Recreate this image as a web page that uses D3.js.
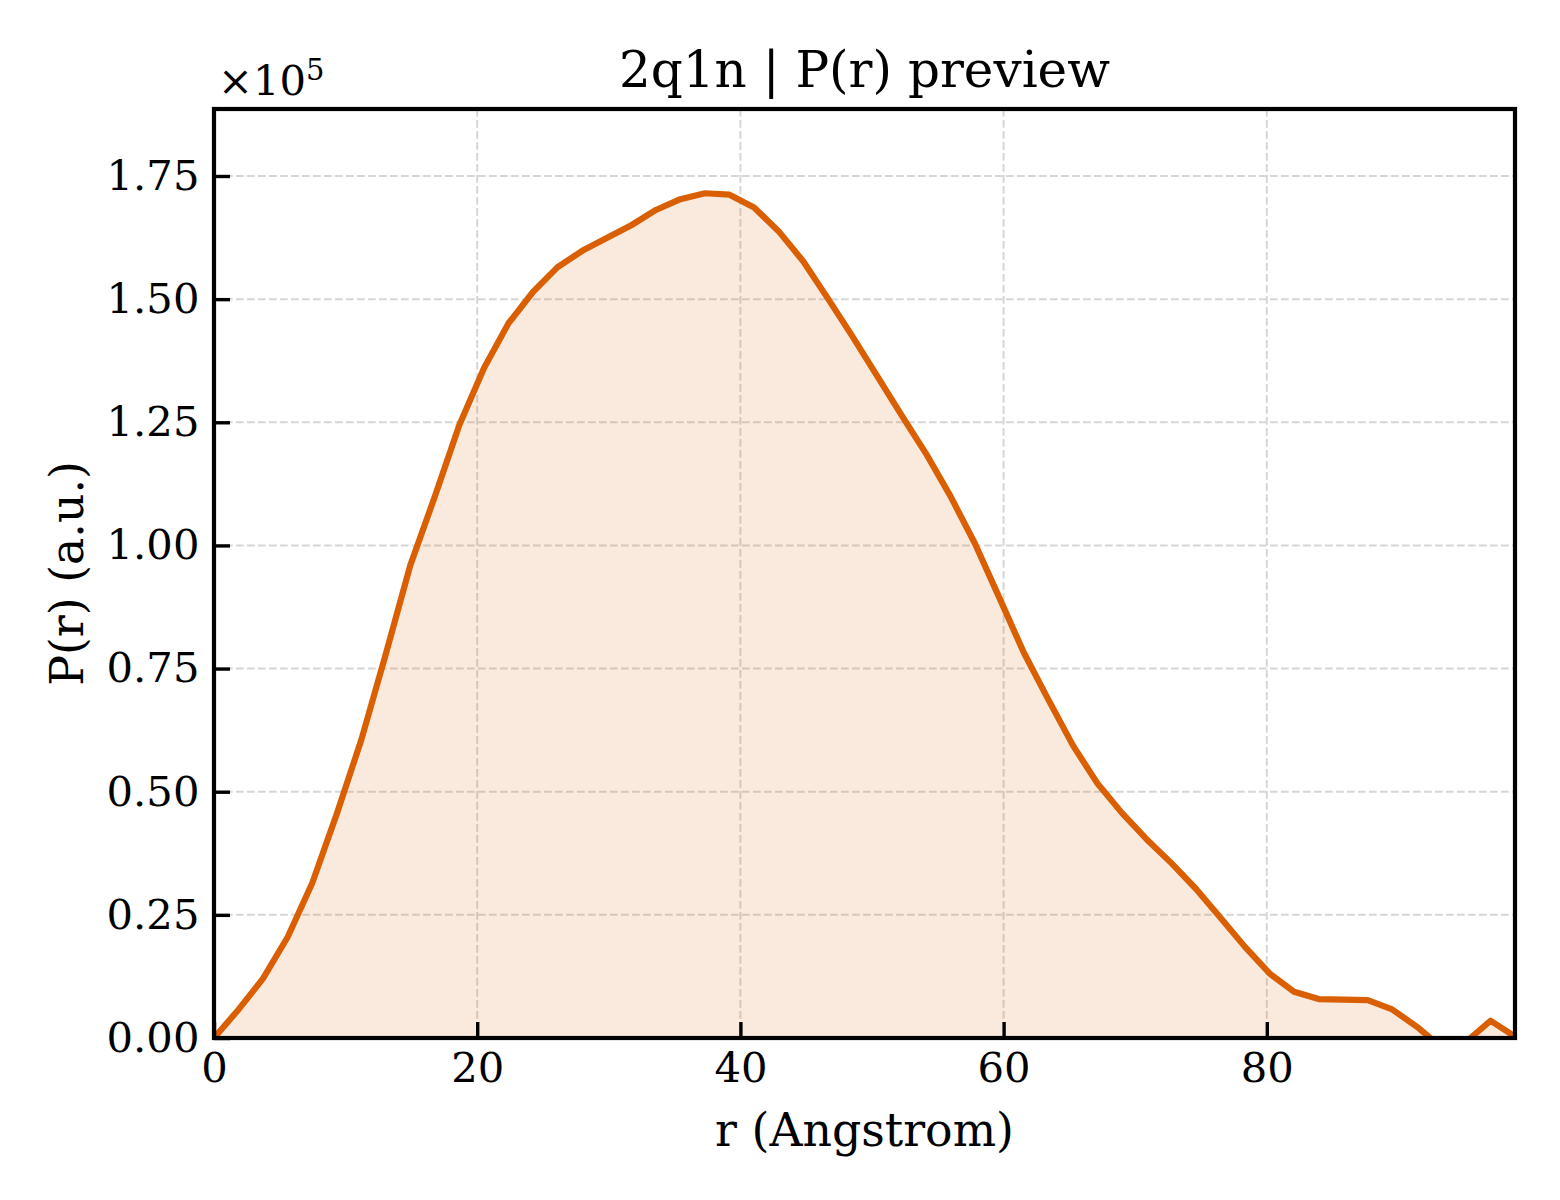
<!DOCTYPE html>
<meta charset="utf-8">
<script src="https://d3js.org/d3.v7.min.js"></script>
<style>
  body { margin: 0; background: #fff; }
  text { font-family: "DejaVu Serif", serif; fill: #000; }
</style>
<div id="chart"></div>
<script>

  // r values (Angstrom) and P(r) values (a.u.)
  var rValues = [0, 1.87, 3.73, 5.60, 7.46, 9.33, 11.19, 13.06, 14.92, 16.79,
    18.65, 20.52, 22.38, 24.25, 26.11, 27.98, 29.84, 31.71, 33.58, 35.44,
    37.31, 39.17, 41.04, 42.90, 44.77, 46.63, 48.50, 50.36, 52.23, 54.09,
    55.96, 57.82, 59.69, 61.56, 63.42, 65.29, 67.15, 69.02, 70.88, 72.75,
    74.61, 76.48, 78.34, 80.21, 82.07, 83.94, 85.80, 87.67, 89.53, 91.40,
    93.27, 95.13, 97.00, 98.86];

  var prValues = [0, 5800, 12100, 20500, 31400, 45500, 60500, 78000, 96000, 110000,
    124500, 136000, 145100, 151500, 156500, 159800, 162400, 165000, 168100, 170300,
    171500, 171200, 168600, 163800, 157700, 150200, 142500, 134500, 126500, 118700,
    110000, 100400, 89300, 78100, 68600, 59300, 51600, 45600, 40300, 35500,
    30300, 24400, 18500, 13100, 9400, 7900, 7800, 7700, 5800, 2300,
    -1900, -800, 3500, 300];

  var xTicks = [0, 20, 40, 60, 80];
  var yTicks = [0, 25000, 50000, 75000, 100000, 125000, 150000, 175000];

  var data = rValues.map(function(r, i){ return {r: r, p: prValues[i]}; });

  // figure is 5.2 x 4 in at 300 dpi
  var W = 1560, H = 1200;
  var margin = {top: 109, right: 45, bottom: 162, left: 214},
    width = W - margin.left - margin.right,
    height = H - margin.top - margin.bottom;

  var lineColor = "#d95f02";
  var tickFont = 41.7, labelFont = 45.8, titleFont = 50;

  var svg = d3.select("#chart")
    .append("svg")
      .attr("width", W)
      .attr("height", H)
    .append("g")
      .attr("transform", "translate(" + margin.left + "," + margin.top + ")");

  var x = d3.scaleLinear()
    .domain([0, 98.86])
    .range([0, width]);

  var y = d3.scaleLinear()
    .domain([0, 188600])
    .range([height, 0]);

  // dashed grid
  svg.append("g")
    .selectAll("line.gx")
    .data(xTicks.slice(1))
    .enter()
    .append("line")
      .attr("x1", function(d){ return x(d); })
      .attr("x2", function(d){ return x(d); })
      .attr("y1", 0)
      .attr("y2", height)
      .attr("stroke", "#d6d6d6")
      .attr("stroke-width", 2)
      .attr("stroke-dasharray", "7.7,3.3");

  svg.append("g")
    .selectAll("line.gy")
    .data(yTicks.slice(1))
    .enter()
    .append("line")
      .attr("x1", 0)
      .attr("x2", width)
      .attr("y1", function(d){ return y(d); })
      .attr("y2", function(d){ return y(d); })
      .attr("stroke", "#d6d6d6")
      .attr("stroke-width", 2)
      .attr("stroke-dasharray", "7.7,3.3");

  // clip to the axes box
  svg.append("clipPath")
    .attr("id", "plotclip")
    .append("rect")
      .attr("width", width)
      .attr("height", height);

  var plot = svg.append("g").attr("clip-path", "url(#plotclip)");

  plot.append("path")
    .datum(data)
    .attr("fill", lineColor)
    .attr("fill-opacity", 0.13)
    .attr("d", d3.area()
      .x(function(d){ return x(d.r); })
      .y0(y(0))
      .y1(function(d){ return y(d.p); }));

  plot.append("path")
    .datum(data)
    .attr("fill", "none")
    .attr("stroke", lineColor)
    .attr("stroke-width", 6.2)
    .attr("stroke-linejoin", "round")
    .attr("d", d3.line()
      .x(function(d){ return x(d.r); })
      .y(function(d){ return y(d.p); }));

  // axes, ticks pointing inward
  var xAxis = svg.append("g")
    .attr("transform", "translate(0," + height + ")")
    .call(d3.axisBottom(x).tickValues(xTicks).tickSize(-16).tickPadding(14.6).tickFormat(d3.format("d")));

  var yAxis = svg.append("g")
    .call(d3.axisLeft(y).tickValues(yTicks).tickSize(-16).tickPadding(14.6)
      .tickFormat(function(d){ return d3.format(".2f")(d / 1e5); }));

  [xAxis, yAxis].forEach(function(ax){
    ax.select(".domain").remove();
    ax.selectAll(".tick line").attr("stroke", "#000").attr("stroke-width", 3.4);
    ax.selectAll(".tick text")
      .style("font-family", "'DejaVu Serif', serif")
      .style("font-size", tickFont + "px")
      .attr("fill", "#000");
  });

  // frame
  svg.append("rect")
    .attr("width", width)
    .attr("height", height)
    .attr("fill", "none")
    .attr("stroke", "#000")
    .attr("stroke-width", 4.2);

  // offset text
  var off = svg.append("text")
    .attr("x", 4)
    .attr("y", -14)
    .style("font-size", tickFont + "px");
  off.append("tspan").text("×10");
  off.append("tspan")
    .attr("dy", -15)
    .style("font-size", "29px")
    .text("5");

  // title and labels
  svg.append("text")
    .attr("x", width / 2)
    .attr("y", -22)
    .attr("text-anchor", "middle")
    .style("font-size", titleFont + "px")
    .text("2q1n | P(r) preview");

  svg.append("text")
    .attr("x", width / 2)
    .attr("y", height + 108)
    .attr("text-anchor", "middle")
    .style("font-size", labelFont + "px")
    .text("r (Angstrom)");

  svg.append("text")
    .attr("transform", "translate(" + (-131) + "," + (height / 2) + ") rotate(-90)")
    .attr("text-anchor", "middle")
    .style("font-size", labelFont + "px")
    .text("P(r) (a.u.)");

</script>
